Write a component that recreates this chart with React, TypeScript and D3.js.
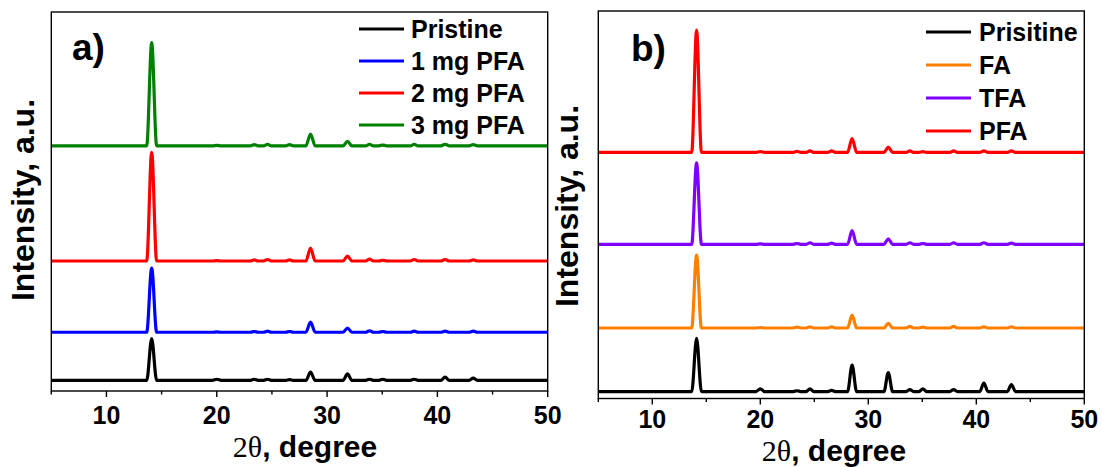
import React from 'react';
import * as d3 from 'd3';

// ---------- data ----------
const X_DOMAIN = [5, 50];
const X_TICKS_MAJOR = [10, 20, 30, 40, 50];
const X_TICKS_MINOR = [5, 15, 25, 35, 45];

// Bragg peak positions (2θ, degree) and their half-widths at the base
const PEAK_POS = [14.1, 20.0, 23.4, 24.6, 26.6, 28.5, 31.85, 33.85, 35.05, 37.9, 40.7, 43.25];
const PEAK_HALF_WIDTH = [0.45, 0.4, 0.35, 0.35, 0.35, 0.42, 0.4, 0.35, 0.35, 0.35, 0.38, 0.38];

// Panel a) (intensity in a.u., 0–1000 full scale)
const A_LABELS = ['Pristine', '1 mg PFA', '2 mg PFA', '3 mg PFA'];
const A_COLORS = ['#000000', '#0000ff', '#ff0000', '#008000'];
const A_OFFSETS = [28, 155, 343, 647];
const A_PRISTINE = [110, 3, 3, 3, 2, 22, 17, 3, 3, 3, 9, 6];
const A_PFA1 = [169, 1, 2, 3, 2, 27, 11, 4, 2, 3, 3, 3];
const A_PFA2 = [287, 1, 3, 4, 3, 34, 13, 5, 2, 4, 4, 3];
const A_PFA3 = [272, 1, 3, 4, 3, 31, 12, 4, 2, 4, 4, 3];

// Panel b)
const B_LABELS = ['Prisitine', 'FA', 'TFA', 'PFA'];
const B_COLORS = ['#000000', '#ff8000', '#8000ff', '#ff0000'];
const B_OFFSETS = [18, 182, 398, 635];
const B_PRISTINE = [137, 7, 2, 7, 3, 68, 49, 5, 7, 5, 22, 18];
const B_FA = [188, 1, 2, 3, 3, 33, 12, 4, 2, 4, 3, 3];
const B_TFA = [210, 1, 2, 4, 3, 35, 14, 4, 2, 4, 4, 3];
const B_PFA = [316, 2, 3, 4, 4, 36, 14, 4, 2, 4, 4, 4];

const A_SERIES = [A_PRISTINE, A_PFA1, A_PFA2, A_PFA3];
const B_SERIES = [B_PRISTINE, B_FA, B_TFA, B_PFA];

// ---------- helpers ----------
type Pt = [number, number];
function tracePoints(heights: number[], offset: number): Pt[] {
  const pts: Pt[] = [[X_DOMAIN[0], offset]];
  PEAK_POS.forEach((p, i) => {
    const hw = PEAK_HALF_WIDTH[i];
    pts.push([p - hw, offset]);
    pts.push([p, offset + heights[i]]);
    pts.push([p + hw, offset]);
  });
  pts.push([X_DOMAIN[1], offset]);
  return pts;
}

const SANS = '"Liberation Sans", Arial, Helvetica, sans-serif';
const SERIF = '"Liberation Serif", "Times New Roman", serif';

interface PanelProps {
  left: number; right: number; top: number; bottom: number;
  label: string; labelX: number; labelY: number;
  legendX1: number; legendX2: number; legendTextX: number; legendRows: number[];
  yTitleX: number; yTitleY: number;
  xTitleX: number; xTitleY: number;
  tickLabelY: number;
  labels: string[]; colors: string[]; offsets: number[]; series: number[][];
}

function Panel(p: PanelProps) {
  const x = d3.scaleLinear().domain(X_DOMAIN).range([p.left, p.right]);
  const y = d3.scaleLinear().domain([0, 1000]).range([p.bottom, p.top]);
  const line = d3.line<Pt>().x(d => x(d[0])).y(d => y(d[1])).curve(d3.curveMonotoneX);

  return (
    <g>
      {p.series.map((s, i) => (
        <path key={i} d={line(tracePoints(s, p.offsets[i])) || ''} fill="none"
          stroke={p.colors[i]} strokeWidth={3.2} strokeLinejoin="round" />
      ))}
      {/* frame */}
      <rect x={p.left} y={p.top} width={p.right - p.left} height={p.bottom - p.top}
        fill="none" stroke="#000" strokeWidth={1.4} />
      {/* ticks */}
      {X_TICKS_MAJOR.map(t => (
        <line key={'M' + t} x1={x(t)} x2={x(t)} y1={p.bottom} y2={p.bottom + 6} stroke="#000" strokeWidth={1.4} />
      ))}
      {X_TICKS_MINOR.map(t => (
        <line key={'m' + t} x1={x(t)} x2={x(t)} y1={p.bottom} y2={p.bottom + 3.5} stroke="#000" strokeWidth={1.4} />
      ))}
      {X_TICKS_MAJOR.map(t => (
        <text key={'L' + t} x={x(t)} y={p.tickLabelY} textAnchor="middle"
          fontFamily={SANS} fontWeight="bold" fontSize={25} fill="#000">{t}</text>
      ))}
      {/* axis titles */}
      <text x={p.xTitleX} y={p.xTitleY} textAnchor="middle" fontSize={30} fill="#000">
        <tspan fontFamily={SERIF}>2θ</tspan>
        <tspan fontFamily={SANS} fontWeight="bold">, degree</tspan>
      </text>
      <text transform={`translate(${p.yTitleX},${p.yTitleY}) rotate(-90)`} textAnchor="middle"
        fontFamily={SANS} fontWeight="bold" fontSize={32} fill="#000">Intensity, a.u.</text>
      {/* panel label */}
      <text x={p.labelX} y={p.labelY} fontFamily={SANS} fontWeight="bold" fontSize={37} fill="#000">{p.label}</text>
      {/* legend */}
      {p.labels.map((l, i) => (
        <g key={l}>
          <line x1={p.legendX1} x2={p.legendX2} y1={p.legendRows[i]} y2={p.legendRows[i]}
            stroke={p.colors[i]} strokeWidth={3.2} />
          <text x={p.legendTextX} y={p.legendRows[i] + 8.5} fontFamily={SANS} fontWeight="bold"
            fontSize={25} fill="#000">{l}</text>
        </g>
      ))}
    </g>
  );
}

export default function App() {
  return (
    <svg width={1102} height={467} style={{ position: 'absolute', left: 0, top: 0, background: '#fff' }}>
      <rect x={0} y={0} width={1102} height={467} fill="#fff" />
      <Panel left={51.3} right={547.7} top={12} bottom={391}
        label="a)" labelX={72} labelY={60}
        legendX1={359} legendX2={404} legendTextX={411} legendRows={[29, 61, 93, 125]}
        yTitleX={34} yTitleY={200} xTitleX={305} xTitleY={457} tickLabelY={424}
        labels={A_LABELS} colors={A_COLORS} offsets={A_OFFSETS} series={A_SERIES} />
      <Panel left={598.3} right={1084.3} top={11} bottom={398.5}
        label="b)" labelX={631} labelY={61}
        legendX1={926} legendX2={971} legendTextX={979} legendRows={[32, 65, 98, 131]}
        yTitleX={578} yTitleY={206} xTitleX={834} xTitleY={461} tickLabelY={428}
        labels={B_LABELS} colors={B_COLORS} offsets={B_OFFSETS} series={B_SERIES} />
    </svg>
  );
}
